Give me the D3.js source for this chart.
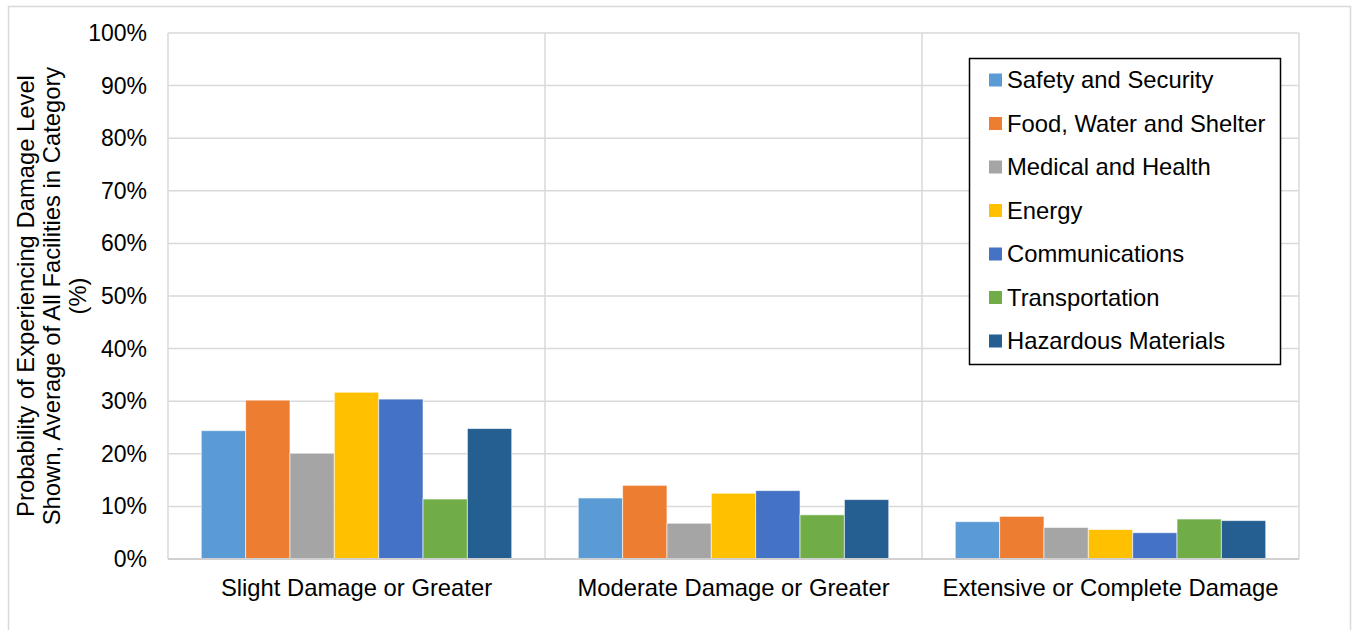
<!DOCTYPE html>
<html>
<head>
<meta charset="utf-8">
<script src="https://cdn.jsdelivr.net/npm/d3@7"></script>
<style>
  html, body { margin: 0; padding: 0; background: #fff; }
  svg { display: block; font-family: "Liberation Sans", Arial, sans-serif; }
</style>
</head>
<body>
<svg id="chart"></svg>
<script>
const categories = ["Slight Damage or Greater", "Moderate Damage or Greater", "Extensive or Complete Damage"];
const seriesNames = ["Safety and Security", "Food, Water and Shelter", "Medical and Health", "Energy",
    "Communications", "Transportation", "Hazardous Materials"];
const seriesColors = ["#5B9BD5", "#ED7D31", "#A5A5A5", "#FFC000", "#4472C4", "#70AD47", "#255E91"];

// values in %, one array per series, ordered like categories
const safety = [24.4, 11.6, 7.1];
const food = [30.2, 14.0, 8.1];
const medical = [20.1, 6.8, 6.0];
const energy = [31.7, 12.5, 5.6];
const comms = [30.4, 13.0, 5.0];
const transport = [11.4, 8.4, 7.6];
const hazmat = [24.8, 11.3, 7.3];
const seriesValues = [safety, food, medical, energy, comms, transport, hazmat];

const yTicks = [0, 10, 20, 30, 40, 50, 60, 70, 80, 90, 100];

const width = 1354, height = 630;
const margin = {top: 33, right: 55, bottom: 71, left: 168};
const innerW = width - margin.left - margin.right;
const innerH = height - margin.top - margin.bottom;

const svg = d3.select("#chart").attr("width", width).attr("height", height);

// outer chart frame
svg.append("rect")
    .attr("x", 8.5).attr("y", 6.5)
    .attr("width", 1342).attr("height", 640)
    .attr("fill", "none").attr("stroke", "#D9D9D9").attr("stroke-width", 1.5);

const chart = svg.append("g").attr("transform", `translate(${margin.left},${margin.top})`);

const x0 = d3.scaleBand().domain(categories).range([0, innerW]).padding(0);
const x1 = d3.scaleBand().domain(seriesNames).range([0, x0.bandwidth()])
    .paddingInner(0).paddingOuter(0.75);
const y = d3.scaleLinear().domain([0, 100]).range([innerH, 0]);

// horizontal gridlines
chart.append("g")
    .selectAll("line")
    .data(yTicks)
    .join("line")
    .attr("x1", 0).attr("x2", innerW)
    .attr("y1", d => y(d)).attr("y2", d => y(d))
    .attr("stroke", "#D9D9D9").attr("stroke-width", 1.5);

// vertical category separators + plot border sides
chart.append("g")
    .selectAll("line")
    .data(categories.map(c => x0(c)).concat([innerW]))
    .join("line")
    .attr("x1", d => d).attr("x2", d => d)
    .attr("y1", 0).attr("y2", innerH)
    .attr("stroke", "#D9D9D9").attr("stroke-width", 1.5);

// bars
const groups = chart.append("g")
    .selectAll("g")
    .data(seriesNames)
    .join("g")
    .attr("fill", (d, i) => seriesColors[i]);

groups.selectAll("rect")
    .data((s, i) => categories.map((c, j) => ({cat: c, series: s, value: seriesValues[i][j]})))
    .join("rect")
    .attr("x", d => x0(d.cat) + x1(d.series))
    .attr("width", x1.bandwidth())
    .attr("y", d => y(d.value))
    .attr("height", d => innerH - y(d.value))
    .attr("stroke", "#fff").attr("stroke-opacity", 0.6).attr("stroke-width", 1);

// bottom axis line
chart.append("line")
    .attr("x1", 0).attr("x2", innerW)
    .attr("y1", innerH).attr("y2", innerH)
    .attr("stroke", "#D0D0D0").attr("stroke-width", 2);

// y tick labels
chart.append("g")
    .attr("font-size", 23)
    .attr("fill", "#000")
    .attr("text-anchor", "end")
    .selectAll("text")
    .data(yTicks)
    .join("text")
    .attr("x", -21)
    .attr("y", d => y(d))
    .attr("dy", "0.35em")
    .text(d => d + "%");

// category labels
chart.append("g")
    .attr("font-size", 23.8)
    .attr("fill", "#000")
    .attr("text-anchor", "middle")
    .selectAll("text")
    .data(categories)
    .join("text")
    .attr("x", d => x0(d) + x0.bandwidth() / 2)
    .attr("y", innerH + 37)
    .text(d => d);

// y axis title
const titleLines = ["Probability of Experiencing Damage Level",
    "Shown, Average of All Facilities in Category", "(%)"];
svg.append("g")
    .attr("transform", `translate(34,${margin.top + innerH / 2}) rotate(-90)`)
    .attr("font-size", 23.8)
    .attr("fill", "#000")
    .attr("text-anchor", "middle")
    .selectAll("text")
    .data(titleLines)
    .join("text")
    .attr("x", 0)
    .attr("y", (d, i) => i * 26)
    .text(d => d);

// legend
const legend = svg.append("g").attr("transform", "translate(969,58)");
legend.append("rect")
    .attr("x", 0.5).attr("y", 0.5)
    .attr("width", 311).attr("height", 306)
    .attr("fill", "#fff").attr("stroke", "#000").attr("stroke-width", 1.5);

const items = legend.selectAll("g.item")
    .data(seriesNames)
    .join("g")
    .attr("class", "item")
    .attr("transform", (d, i) => `translate(0,${22 + i * 43.5})`);

items.append("rect")
    .attr("x", 20).attr("y", -6.5)
    .attr("width", 13).attr("height", 13)
    .attr("fill", (d, i) => seriesColors[i]);

items.append("text")
    .attr("x", 38)
    .attr("dy", "0.35em")
    .attr("font-size", 23.8)
    .attr("fill", "#000")
    .text(d => d);
</script>
</body>
</html>
